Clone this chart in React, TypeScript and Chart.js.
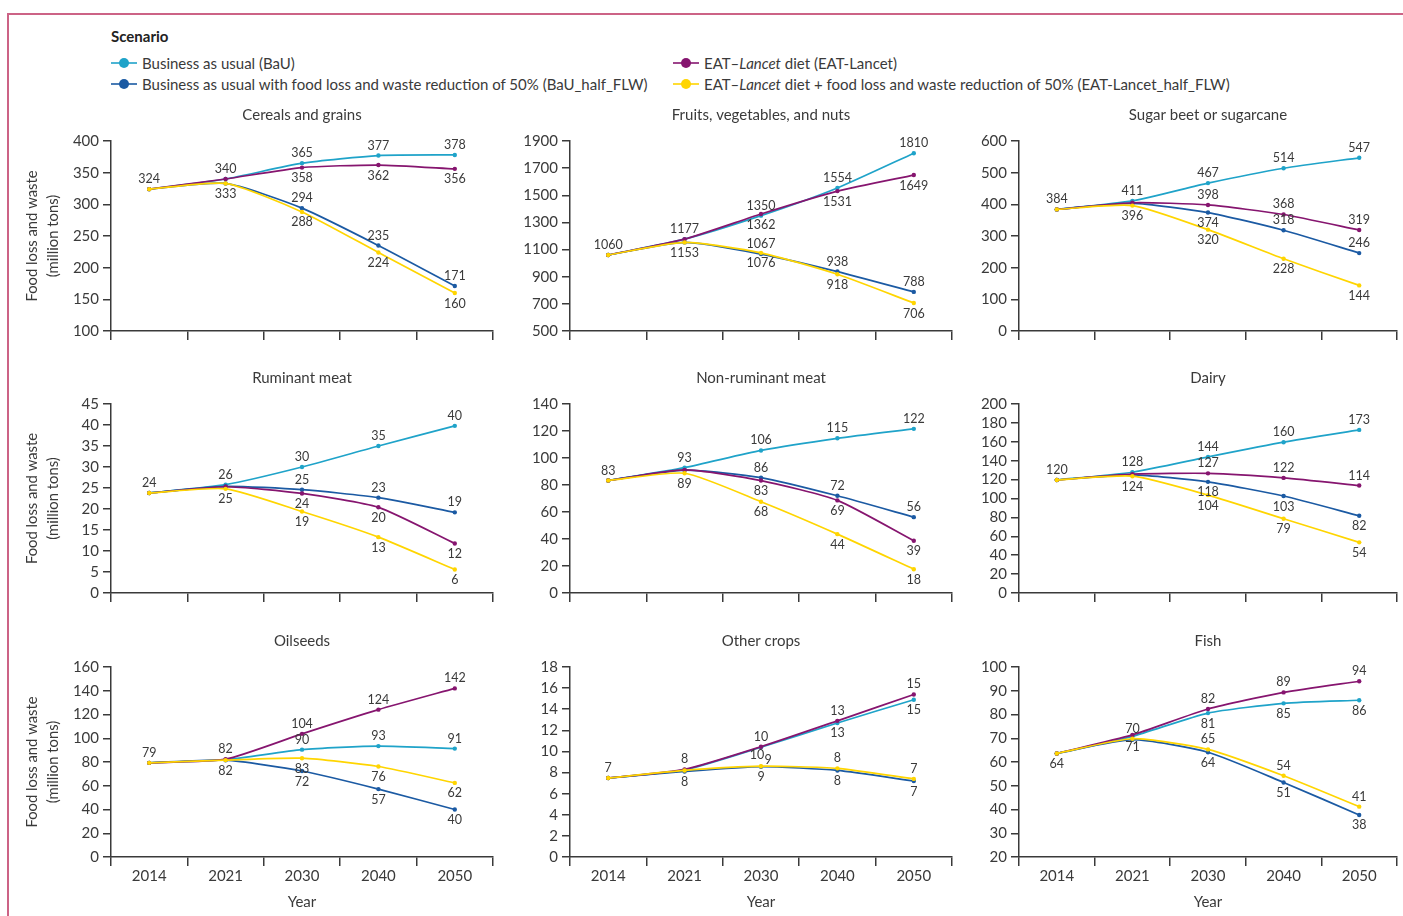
import React, { useEffect, useRef } from "react";
import { Chart, registerables } from "chart.js";

Chart.register(...registerables);

const FONT = "Lato, 'Noto Sans', 'DejaVu Sans', sans-serif";
const TEXT_COLOR = "#3a3a3a";
const AXIS_COLOR = "#3a3a3a";

const YEARS = ["2014", "2021", "2030", "2040", "2050"];

// Scenario colours
const COLOR_BAU = "#1fa3c9";
const COLOR_BAU_HALF = "#1b5aa3";
const COLOR_EAT = "#86156f";
const COLOR_EAT_HALF = "#ffd500";

// Food loss and waste, million tons
const cerealsBaU = [324, 340, 365, 377, 378];
const cerealsEAT = [324, 340, 358, 362, 356];
const cerealsBaUHalf = [324, 333, 294, 235, 171];
const cerealsEATHalf = [324, 333, 288, 224, 160];

const fruitsBaU = [1060, 1177, 1350, 1554, 1810];
const fruitsEAT = [1060, 1177, 1362, 1531, 1649];
const fruitsBaUHalf = [1060, 1153, 1067, 938, 788];
const fruitsEATHalf = [1060, 1153, 1076, 918, 706];

const sugarBaU = [384, 411, 467, 514, 547];
const sugarEAT = [384, 405, 398, 368, 319];
const sugarBaUHalf = [384, 403, 374, 318, 246];
const sugarEATHalf = [384, 396, 320, 228, 144];

const ruminantBaU = [23.8, 25.8, 30.0, 35.0, 39.8];
const ruminantEAT = [23.8, 25.3, 23.7, 20.4, 11.8];
const ruminantBaUHalf = [23.8, 25.4, 24.6, 22.7, 19.2];
const ruminantEATHalf = [23.8, 24.8, 19.4, 13.3, 5.6];

const nonRuminantBaU = [83.3, 92.9, 105.6, 114.6, 121.6];
const nonRuminantEAT = [83.3, 91.2, 83.3, 68.6, 38.7];
const nonRuminantBaUHalf = [83.3, 91.0, 85.5, 72.0, 56.2];
const nonRuminantEATHalf = [83.3, 88.7, 67.6, 43.6, 17.6];

const dairyBaU = [119.6, 127.8, 144.0, 159.6, 172.6];
const dairyEAT = [119.6, 125.7, 126.6, 121.8, 113.7];
const dairyBaUHalf = [119.6, 125.0, 117.6, 102.6, 81.7];
const dairyEATHalf = [119.6, 123.6, 103.6, 78.6, 53.6];

const oilseedsBaU = [79.3, 81.9, 90.4, 93.4, 91.3];
const oilseedsEAT = [79.3, 82.4, 103.7, 124.1, 142.0];
const oilseedsBaUHalf = [79.3, 81.5, 72.4, 57.2, 40.0];
const oilseedsEATHalf = [79.3, 81.6, 83.2, 76.2, 62.4];

const otherBaU = [7.48, 8.25, 10.4, 12.7, 14.9];
const otherEAT = [7.48, 8.3, 10.45, 12.9, 15.4];
const otherBaUHalf = [7.48, 8.1, 8.55, 8.2, 7.2];
const otherEATHalf = [7.48, 8.2, 8.6, 8.4, 7.4];

const fishBaU = [63.6, 70.8, 80.6, 84.7, 86.0];
const fishEAT = [63.6, 71.4, 82.3, 89.3, 94.0];
const fishBaUHalf = [63.6, 69.4, 64.1, 51.4, 37.7];
const fishEATHalf = [63.6, 69.8, 65.3, 54.2, 41.2];

// y-axis ranges: [min, max, step]
const cerealsAxis = [100, 400, 50];
const fruitsAxis = [500, 1900, 200];
const sugarAxis = [0, 600, 100];
const ruminantAxis = [0, 45, 5];
const nonRuminantAxis = [0, 140, 20];
const dairyAxis = [0, 200, 20];
const oilseedsAxis = [0, 160, 20];
const otherAxis = [0, 18, 2];
const fishAxis = [20, 100, 10];

// Value-label placement per point, order BaU, EAT, BaU_half, EAT_half
// a = above, b = below, - = none, l = below nudged left, r = above nudged right
const cerealsLabels = ["aaaaa", "--bbb", "-baaa", "--bbb"];
const fruitsLabels = ["aaaaa", "--bbb", "-baaa", "--bbb"];
const sugarLabels = ["aaaaa", "--aaa", "--baa", "-bbbb"];
const ruminantLabels = ["aaaaa", "--bbb", "--aaa", "-bbbb"];
const nonRuminantLabels = ["aaaaa", "--bbb", "--aaa", "-bbbb"];
const dairyLabels = ["aaaaa", "--aaa", "--bbb", "-bbbb"];
const oilseedsLabels = ["--aaa", "aaaaa", "-bbbb", "--bbb"];
const otherLabels = ["--lbb", "aaaaa", "-bbbb", "--raa"];
const fishLabels = ["-bbbb", "--aaa", "b-bbb", "-aaaa"];

const PANELS = [
  { title: "Cereals and grains", s: [cerealsBaU, cerealsEAT, cerealsBaUHalf, cerealsEATHalf], axis: cerealsAxis, labels: cerealsLabels },
  { title: "Fruits, vegetables, and nuts", s: [fruitsBaU, fruitsEAT, fruitsBaUHalf, fruitsEATHalf], axis: fruitsAxis, labels: fruitsLabels },
  { title: "Sugar beet or sugarcane", s: [sugarBaU, sugarEAT, sugarBaUHalf, sugarEATHalf], axis: sugarAxis, labels: sugarLabels },
  { title: "Ruminant meat", s: [ruminantBaU, ruminantEAT, ruminantBaUHalf, ruminantEATHalf], axis: ruminantAxis, labels: ruminantLabels },
  { title: "Non-ruminant meat", s: [nonRuminantBaU, nonRuminantEAT, nonRuminantBaUHalf, nonRuminantEATHalf], axis: nonRuminantAxis, labels: nonRuminantLabels },
  { title: "Dairy", s: [dairyBaU, dairyEAT, dairyBaUHalf, dairyEATHalf], axis: dairyAxis, labels: dairyLabels },
  { title: "Oilseeds", s: [oilseedsBaU, oilseedsEAT, oilseedsBaUHalf, oilseedsEATHalf], axis: oilseedsAxis, labels: oilseedsLabels },
  { title: "Other crops", s: [otherBaU, otherEAT, otherBaUHalf, otherEATHalf], axis: otherAxis, labels: otherLabels },
  { title: "Fish", s: [fishBaU, fishEAT, fishBaUHalf, fishEATHalf], axis: fishAxis, labels: fishLabels },
];

// Grid geometry (page pixels)
const COL_LEFT = [0, 500, 950];
const COL_AXIS = [111, 570, 1019];
const COL_RIGHT = [493, 952, 1397];
const ROW_TOP = [141, 404, 667];
const ROW_BOTTOM = [331, 593, 857];
const TOP_PAD = 46;
const RIGHT_PAD = 6;

// series order matches the label arrays; drawing order puts EAT over BaU
const SERIES_COLORS = [COLOR_BAU, COLOR_EAT, COLOR_BAU_HALF, COLOR_EAT_HALF];
const DRAW_ORDER = [3, 1, 2, 0];

function Panel({ index }: { index: number }) {
  const ref = useRef<HTMLCanvasElement | null>(null);
  const panel = PANELS[index];
  const col = index % 3;
  const row = Math.floor(index / 3);
  const left = COL_LEFT[col];
  const top = ROW_TOP[row] - TOP_PAD;
  const width = COL_RIGHT[col] + RIGHT_PAD - left;
  const xHeight = row === 2 ? 56 : 12;
  const bottomPad = row === 2 ? 0 : 2;
  const height = ROW_BOTTOM[row] + xHeight + bottomPad - top;

  useEffect(() => {
    if (!ref.current) return;
    const datasets = DRAW_ORDER.map((k) => ({
      data: panel.s[k],
      labelModes: panel.labels[k],
      borderColor: SERIES_COLORS[k],
      backgroundColor: SERIES_COLORS[k],
      borderWidth: 1.7,
      pointRadius: 2.2,
      pointBorderWidth: 0,
      pointHoverRadius: 2.2,
      tension: 0.2,
      clip: false as any,
    }));

    const decor = {
      id: "panelDecor",
      afterDatasetsDraw(chart: any) {
        const ctx = chart.ctx;
        ctx.save();
        ctx.font = `12.5px ${FONT}`;
        ctx.fillStyle = TEXT_COLOR;
        ctx.textAlign = "center";
        ctx.textBaseline = "middle";
        chart.data.datasets.forEach((ds: any, di: number) => {
          const meta = chart.getDatasetMeta(di);
          meta.data.forEach((pt: any, i: number) => {
            const mode = ds.labelModes[i];
            if (mode === "-") return;
            let dx = 0;
            let dy = 0;
            if (mode === "a") dy = -10;
            else if (mode === "b") dy = 10.5;
            else if (mode === "l") { dy = 8; dx = -4; }
            else if (mode === "r") { dy = -6.5; dx = 7; }
            ctx.fillText(String(Math.round(ds.data[i])), pt.x + dx, pt.y + dy);
          });
        });
        ctx.restore();
      },
      afterDraw(chart: any) {
        const { ctx, chartArea } = chart;
        ctx.save();
        ctx.font = `15px ${FONT}`;
        ctx.fillStyle = TEXT_COLOR;
        ctx.textAlign = "center";
        ctx.textBaseline = "middle";
        ctx.fillText(panel.title, (chartArea.left + chartArea.right) / 2, chartArea.top - 26);
        ctx.restore();
      },
    };

    const [yMin, yMax, yStep] = panel.axis;
    const chart = new Chart(ref.current, {
      type: "line",
      data: { labels: YEARS, datasets: datasets as any },
      options: {
        responsive: false,
        animation: false,
        devicePixelRatio: 1,
        layout: { padding: { top: TOP_PAD, left: 0, right: RIGHT_PAD, bottom: bottomPad } },
        plugins: { legend: { display: false }, tooltip: { enabled: false }, title: { display: false } },
        scales: {
          x: {
            type: "category",
            offset: true,
            afterFit: (s: any) => { s.height = xHeight; },
            grid: {
              offset: true,
              drawOnChartArea: false,
              drawTicks: true,
              tickLength: 9,
              color: AXIS_COLOR,
              lineWidth: 1.5,
            },
            border: { display: true, color: AXIS_COLOR, width: 1.5 },
            ticks: {
              display: row === 2,
              color: TEXT_COLOR,
              font: { family: FONT, size: 15 },
              padding: 1,
              maxRotation: 0,
            },
            title: {
              display: row === 2,
              text: "Year",
              color: TEXT_COLOR,
              font: { family: FONT, size: 15, lineHeight: 1.2 },
              padding: { top: 0, bottom: 2 },
            },
          },
          y: {
            type: "linear",
            min: yMin,
            max: yMax,
            afterFit: (s: any) => { s.width = COL_AXIS[col] - left; },
            grid: {
              drawOnChartArea: false,
              drawTicks: true,
              tickLength: 8,
              color: AXIS_COLOR,
              lineWidth: 1.5,
            },
            border: { display: true, color: AXIS_COLOR, width: 1.5 },
            ticks: {
              stepSize: yStep,
              autoSkip: false,
              maxTicksLimit: 30,
              color: TEXT_COLOR,
              font: { family: FONT, size: 15 },
              padding: 4,
              callback: (v: any) => String(v),
            },
            title: {
              display: col === 0,
              text: ["Food loss and waste", "(million tons)"],
              color: TEXT_COLOR,
              font: { family: FONT, size: 14.8, lineHeight: 1.4 },
              padding: { top: 22, bottom: 0 },
            },
          },
        },
      },
      plugins: [decor],
    });
    return () => chart.destroy();
  }, []);

  return (
    <canvas
      ref={ref}
      width={width}
      height={height}
      style={{ position: "absolute", left, top, width, height }}
    />
  );
}

const LEGEND_ITEMS = [
  { color: COLOR_BAU, x: 111, y: 63, text: <>Business as usual (BaU)</> },
  { color: COLOR_BAU_HALF, x: 111, y: 84, text: <>Business as usual with food loss and waste reduction of 50% (BaU_half_FLW)</> },
  { color: COLOR_EAT, x: 673, y: 63, text: <>EAT–<i>Lancet</i> diet (EAT-Lancet)</> },
  { color: COLOR_EAT_HALF, x: 673, y: 84, text: <>EAT–<i>Lancet</i> diet + food loss and waste reduction of 50% (EAT-Lancet_half_FLW)</> },
];

function Legend() {
  return (
    <>
      <div style={{ position: "absolute", left: 111, top: 26, fontFamily: FONT, fontSize: 15, fontWeight: 700, color: "#222", lineHeight: "20px" }}>
        Scenario
      </div>
      {LEGEND_ITEMS.map((it, i) => (
        <div key={i} style={{ position: "absolute", left: it.x, top: it.y - 10, height: 20, display: "flex", alignItems: "center", fontFamily: FONT, fontSize: 15, color: TEXT_COLOR, whiteSpace: "nowrap" }}>
          <svg width={26} height={12} style={{ marginRight: 5 }}>
            <line x1={0} y1={6} x2={26} y2={6} stroke={it.color} strokeWidth={1.6} />
            <circle cx={13} cy={6} r={5} fill={it.color} />
          </svg>
          <span>{it.text}</span>
        </div>
      ))}
    </>
  );
}

export default function App() {
  return (
    <div style={{ position: "absolute", left: 0, top: 0, width: 1403, height: 916, overflow: "hidden", background: "#fff" }}>
      <div style={{ position: "absolute", left: 7, top: 13, width: 1600, height: 1200, borderTop: "2px solid #cc6386", borderLeft: "2px solid #cc6386" }} />
      <Legend />
      {PANELS.map((_, i) => (
        <Panel key={i} index={i} />
      ))}
    </div>
  );
}
